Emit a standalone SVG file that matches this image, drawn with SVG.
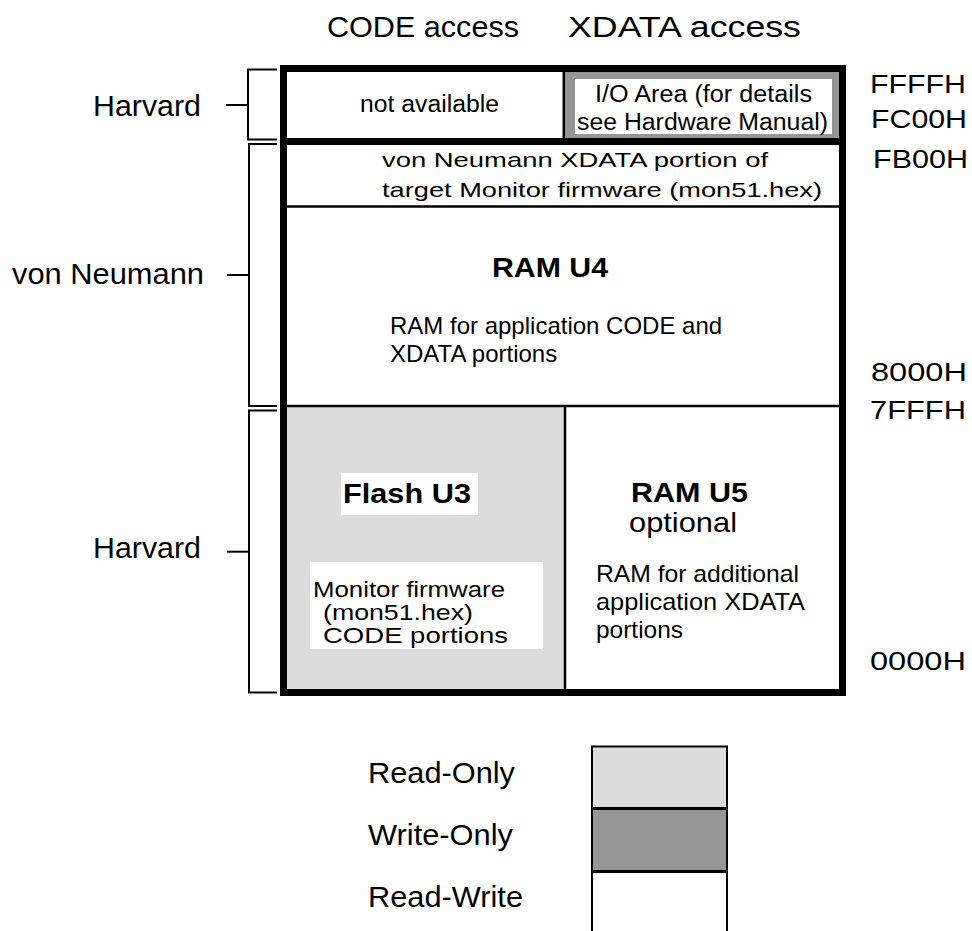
<svg xmlns="http://www.w3.org/2000/svg" width="972" height="931" viewBox="0 0 972 931">
<style>
text{font-family:"Liberation Sans",Arial,sans-serif;fill:#000}
.h{font-size:30px}
.a{font-size:26px}
.s{font-size:23px}
.m{font-size:21px}
.n{font-size:24px}
.f{font-size:22px}
.b{font-size:28px;font-weight:bold}
.br{fill:none;stroke:#000;stroke-width:2}
.thin{stroke:#000;stroke-width:2.5;fill:none}
</style>
<rect width="972" height="931" fill="#fff"/>
<g id="headers">
<text class="h" x="327" y="37" textLength="192" lengthAdjust="spacingAndGlyphs">CODE access</text>
<text class="h" x="568" y="37" textLength="233" lengthAdjust="spacingAndGlyphs">XDATA access</text>
</g>
<g id="side-labels">
<text class="h" x="93" y="115.7" textLength="108" lengthAdjust="spacingAndGlyphs">Harvard</text>
<text class="h" x="12" y="284" textLength="192" lengthAdjust="spacingAndGlyphs">von Neumann</text>
<text class="h" x="93" y="557.7" textLength="108" lengthAdjust="spacingAndGlyphs">Harvard</text>
</g>
<g id="addresses">
<text class="a" x="870" y="93" textLength="96" lengthAdjust="spacingAndGlyphs">FFFFH</text>
<text class="a" x="871" y="128" textLength="96" lengthAdjust="spacingAndGlyphs">FC00H</text>
<text class="a" x="873" y="168" textLength="95" lengthAdjust="spacingAndGlyphs">FB00H</text>
<text class="a" x="871" y="381" textLength="96" lengthAdjust="spacingAndGlyphs">8000H</text>
<text class="a" x="870" y="419" textLength="96" lengthAdjust="spacingAndGlyphs">7FFFH</text>
<text class="a" x="870" y="670" textLength="96" lengthAdjust="spacingAndGlyphs">0000H</text>
</g>
<g id="not-available">
<rect x="287" y="72" width="277" height="66" fill="#fff"/>
<text class="s" x="360" y="112" textLength="139" lengthAdjust="spacingAndGlyphs">not available</text>
</g>
<g id="io-area">
<rect x="565" y="72" width="274" height="66" fill="#969696"/>
<rect x="575" y="79" width="257" height="55" fill="#fff"/>
<text class="s" x="595" y="101.7" textLength="217" lengthAdjust="spacingAndGlyphs">I/O Area (for details</text>
<text class="s" x="577" y="130" textLength="251" lengthAdjust="spacingAndGlyphs">see Hardware Manual)</text>
</g>
<g id="monitor-xdata">
<text class="m" x="382" y="166.7" textLength="386" lengthAdjust="spacingAndGlyphs">von Neumann XDATA portion of</text>
<text class="m" x="382" y="196.7" textLength="440" lengthAdjust="spacingAndGlyphs">target Monitor firmware (mon51.hex)</text>
</g>
<g id="ram-u4">
<text class="b" x="492" y="277.3" textLength="116" lengthAdjust="spacingAndGlyphs">RAM U4</text>
<text class="n" x="390" y="334">RAM for application CODE and</text>
<text class="n" x="390" y="362">XDATA portions</text>
</g>
<g id="flash-u3">
<rect x="287" y="407" width="278" height="282" fill="#dcdcdc"/>
<rect x="341" y="473" width="137" height="42" fill="#fff"/>
<text class="b" x="343" y="503" textLength="128" lengthAdjust="spacingAndGlyphs">Flash U3</text>
<rect x="310" y="562" width="233" height="87" fill="#fff"/>
<text class="f" x="313" y="596.7" textLength="192" lengthAdjust="spacingAndGlyphs">Monitor firmware</text>
<text class="f" x="323" y="620" textLength="150" lengthAdjust="spacingAndGlyphs">(mon51.hex)</text>
<text class="f" x="323" y="643" textLength="185" lengthAdjust="spacingAndGlyphs">CODE portions</text>
</g>
<g id="ram-u5">
<text class="b" x="631" y="501.7" textLength="117" lengthAdjust="spacingAndGlyphs">RAM U5</text>
<text style="font-size:28px" x="629" y="531.7" textLength="108" lengthAdjust="spacingAndGlyphs">optional</text>
<text class="n" x="596" y="581.7" textLength="203" lengthAdjust="spacingAndGlyphs">RAM for additional</text>
<text class="n" x="596" y="610" textLength="209" lengthAdjust="spacingAndGlyphs">application XDATA</text>
<text class="n" x="596" y="638.3" textLength="87" lengthAdjust="spacingAndGlyphs">portions</text>
</g>
<g id="map-frame">
<line class="thin" x1="563.8" y1="72" x2="563.8" y2="138" stroke-width="2"/>
<line class="thin" x1="287" y1="206.5" x2="839" y2="206.5"/>
<line class="thin" x1="287" y1="406" x2="839" y2="406"/>
<line class="thin" x1="565" y1="407" x2="565" y2="689" stroke-width="2"/>
<line x1="280" y1="141.5" x2="846" y2="141.5" stroke="#000" stroke-width="7"/>
<rect x="283.5" y="68.5" width="559" height="624" fill="none" stroke="#000" stroke-width="7"/>
</g>
<g id="connectors">
<path class="br" d="M277,69.5 H248 V139.5 H277"/>
<line class="br" x1="226" y1="105" x2="248" y2="105"/>
<path class="br" d="M277,144 H249 V406 H277"/>
<line class="br" x1="227" y1="275" x2="249" y2="275"/>
<path class="br" d="M277,410.5 H249 V692.5 H277"/>
<line class="br" x1="227" y1="551.7" x2="249" y2="551.7"/>
</g>
<g id="legend">
<rect x="592" y="747" width="135" height="61" fill="#dcdcdc"/>
<rect x="592" y="808" width="135" height="63" fill="#969696"/>
<path d="M592,931 V746.5 H727 V931" fill="none" stroke="#000" stroke-width="2"/>
<line x1="591" y1="808.5" x2="728" y2="808.5" stroke="#000" stroke-width="3"/>
<line x1="591" y1="871.5" x2="728" y2="871.5" stroke="#000" stroke-width="3"/>
<text style="font-size:29px" x="368" y="782.7" textLength="147" lengthAdjust="spacingAndGlyphs">Read-Only</text>
<text style="font-size:29px" x="368" y="845" textLength="145" lengthAdjust="spacingAndGlyphs">Write-Only</text>
<text style="font-size:29px" x="368" y="906.7" textLength="155" lengthAdjust="spacingAndGlyphs">Read-Write</text>
</g>
</svg>
